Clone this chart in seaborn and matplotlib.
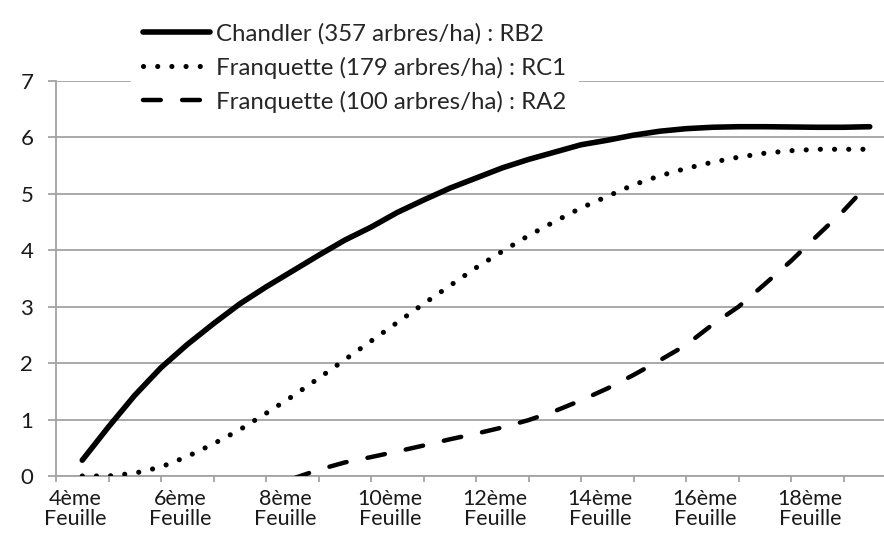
import matplotlib
matplotlib.use("Agg")
import matplotlib.pyplot as plt
import seaborn as sns
import pandas as pd
import numpy as np

# ---- data (every half "feuille") ----
feuilles = [4, 4.5, 5, 5.5, 6, 6.5, 7, 7.5, 8, 8.5, 9, 9.5, 10, 10.5, 11, 11.5,
            12, 12.5, 13, 13.5, 14, 14.5, 15, 15.5, 16, 16.5, 17, 17.5, 18, 18.5, 19]
tick_feuilles = [4, 6, 8, 10, 12, 14, 16, 18]
tick_labels = [f"{n}ème\nFeuille" for n in tick_feuilles]

chandler_rb2 = [0.28, 0.87, 1.43, 1.92, 2.33, 2.70, 3.05, 3.35, 3.63, 3.91,
                4.18, 4.41, 4.67, 4.89, 5.10, 5.28, 5.46, 5.61, 5.74, 5.87,
                5.95, 6.04, 6.11, 6.155, 6.18, 6.19, 6.19, 6.185, 6.18, 6.18, 6.19]
franquette_rc1 = [0.0, 0.0, 0.05, 0.16, 0.345, 0.57, 0.82, 1.11, 1.41, 1.73,
                  2.06, 2.39, 2.72, 3.05, 3.37, 3.69, 3.98, 4.26, 4.51, 4.75,
                  4.955, 5.16, 5.32, 5.45, 5.56, 5.65, 5.72, 5.765, 5.79, 5.79, 5.79]
franquette_ra2 = [None, None, None, None, None, None, None, None, -0.05, 0.11,
                  0.24, 0.335, 0.435, 0.54, 0.65, 0.75, 0.86, 0.99, 1.15, 1.34,
                  1.55, 1.79, 2.05, 2.32, 2.68, 3.00, 3.40, 3.81, 4.26, 4.70, 5.20]

labels = ["Chandler (357 arbres/ha) : RB2",
          "Franquette (179 arbres/ha) : RC1",
          "Franquette (100 arbres/ha) : RA2"]

sns.set_theme(style="white")
plt.rcParams["font.family"] = ["Lato", "DejaVu Sans"]

W, H = 884, 535
fig = plt.figure(figsize=(W / 100, H / 100), dpi=100)
ax = fig.add_axes([56 / W, 59 / H, 840 / W, 395 / H])

grey = "#a3a3a3"
series = [chandler_rb2, franquette_rc1, franquette_ra2]
handles = []
for vals, lab in zip(series, labels):
    df = pd.DataFrame({"feuille": feuilles, "val": vals}).dropna()
    n_before = len(ax.lines)
    sns.lineplot(data=df, x="feuille", y="val", ax=ax, color="black",
                 label=lab, legend=False, zorder=3)
    handles.append(ax.lines[n_before])

l1, l2, l3 = handles
l1.set_linewidth(4.0)
l1.set_solid_capstyle("round")
l1.set_solid_joinstyle("round")

l2.set_linewidth(3.7)
l2.set_dashes((0.01, 2.75))
l2.set_dash_capstyle("round")

l3.set_linewidth(3.2)
l3.set_dashes((4.0, 4.8))
l3.set_dash_capstyle("round")

ax.set_xlim(3.5, 19.5)
ax.set_ylim(0, 7)
ax.set_xlabel("")
ax.set_ylabel("")

ax.set_yticks(range(0, 8))
ax.yaxis.grid(True, color=grey, lw=1.3)
ax.xaxis.grid(False)
ax.set_axisbelow(True)
for s in ["top", "right"]:
    ax.spines[s].set_visible(False)
for s in ["left", "bottom"]:
    ax.spines[s].set_color(grey)
    ax.spines[s].set_linewidth(1.3)

ax.tick_params(axis="y", which="major", length=5.8, width=1.3, color=grey,
               direction="out", left=True, pad=10.5, labelsize=16,
               labelcolor="#1a1a1a")

ax.set_xticks(np.arange(3.5, 19.6, 1.0))
ax.set_xticklabels([])
ax.tick_params(axis="x", which="major", length=4.5, width=1.3, color=grey,
               direction="out", bottom=True)
ax.set_xticks(np.array(tick_feuilles) - 0.14, minor=True)
ax.set_xticklabels(tick_labels, minor=True, linespacing=1.0)
ax.tick_params(axis="x", which="minor", length=0, pad=9.5, labelsize=15.5,
               labelcolor="#1a1a1a")

fs = 17.3
leg = fig.legend(handles, labels, loc="upper left",
                 bbox_to_anchor=(131 / W, 1 - 11 / H),
                 frameon=True, fancybox=False, facecolor="white",
                 edgecolor="none", framealpha=1, fontsize=fs,
                 handlelength=2.8, handletextpad=0.25, labelspacing=0.5,
                 borderpad=0.5, borderaxespad=0)

fig.savefig("out.png", dpi=100)
